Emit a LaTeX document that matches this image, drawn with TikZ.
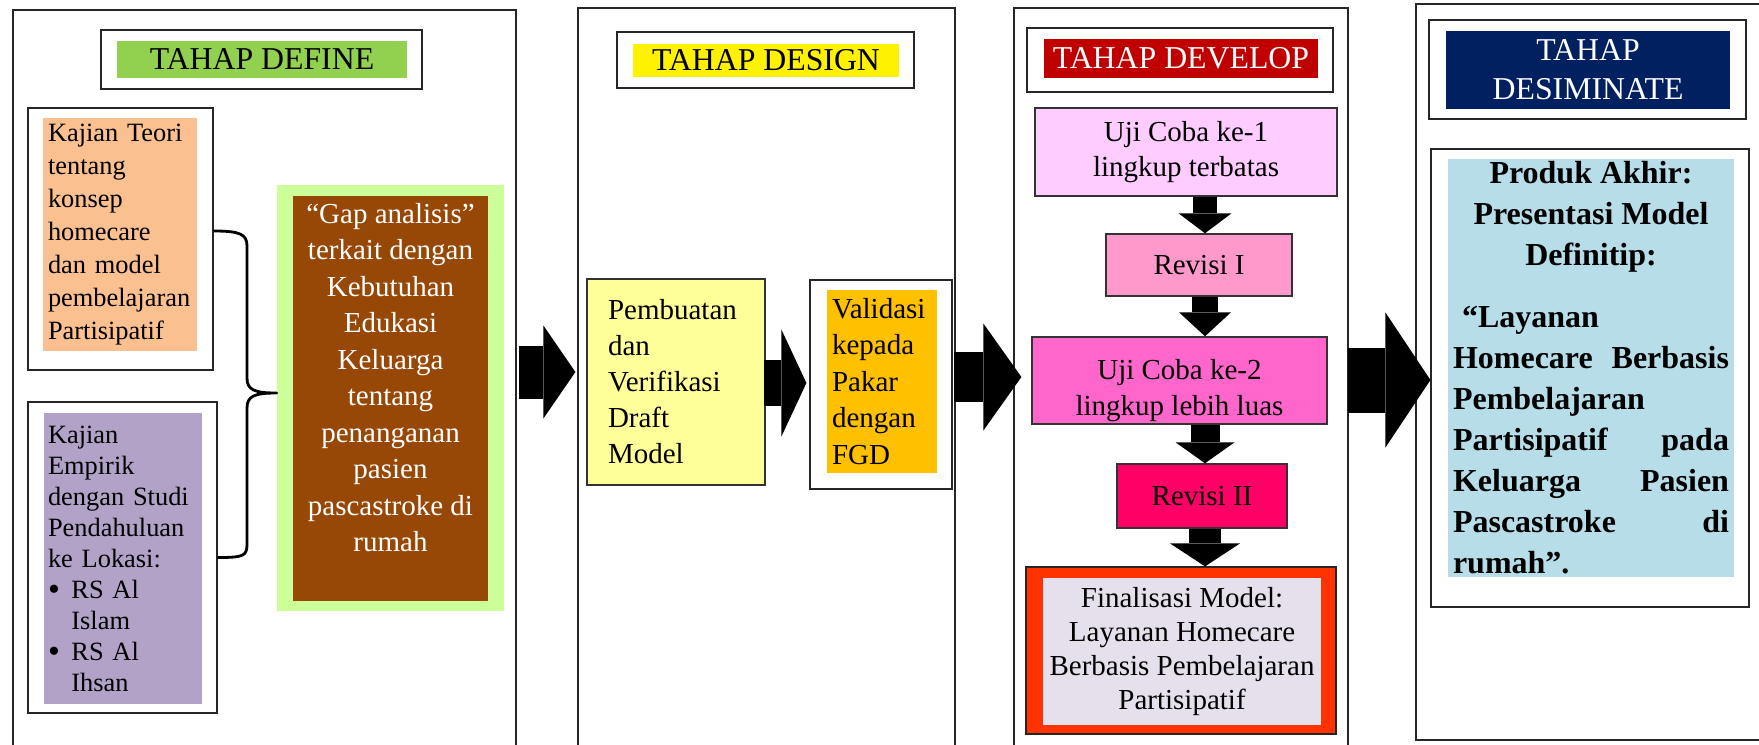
\documentclass[tikz,border=0pt]{standalone}
\usepackage{fontspec}
\setmainfont{Liberation Serif}
\usetikzlibrary{positioning,shapes,arrows.meta,calc,fit,shadows}
\definecolor{definegreen}{RGB}{146,208,80}
\definecolor{gapgreen}{RGB}{204,255,153}
\definecolor{gapbrown}{RGB}{152,72,6}
\definecolor{teoriorange}{RGB}{250,192,144}
\definecolor{empirikpurple}{RGB}{178,162,199}
\definecolor{draftyellow}{RGB}{255,255,153}
\definecolor{fgdorange}{RGB}{255,192,0}
\definecolor{developred}{RGB}{192,0,0}
\definecolor{ujipink}{RGB}{255,204,255}
\definecolor{revpink}{RGB}{255,153,204}
\definecolor{ujimagenta}{RGB}{255,102,204}
\definecolor{revred}{RGB}{255,0,102}
\definecolor{finalred}{RGB}{255,51,0}
\definecolor{finalgrey}{RGB}{230,224,236}
\definecolor{dissemnavy}{RGB}{0,32,96}
\definecolor{produkblue}{RGB}{183,222,232}
\newcommand{\jline}[2]{\makebox[138pt]{#1\hfill#2}}
\newcommand{\lline}[1]{\makebox[138pt][l]{#1}}
\newcommand{\bul}{\makebox[11.7pt][l]{\raisebox{-1pt}[0pt][0pt]{\fontsize{17}{15.5}\selectfont\textbullet}}}

\begin{document}
\begin{tikzpicture}[x=0.5pt,y=-0.5pt,
        panel/.style={draw=black!85, line width=0.6pt, fill=white, inner sep=0pt,
            drop shadow={shadow xshift=0.6pt, shadow yshift=-0.6pt, fill=black!55, opacity=1}},
        frame/.style={panel},
        plate/.style={inner sep=0pt},
        stepbox/.style={draw=black!80, line width=0.7pt, inner sep=0pt},
        titlefont/.style={font=\fontsize{15.9}{19.5}\selectfont, align=center},
        body/.style={font=\fontsize{14.5}{#1}\selectfont},
        brace/.style={draw, line width=1.4pt, line join=round},
        bigarrow/.style n args={3}{line width=#1, -{Triangle[width=#2, length=#3, line width=0pt]}}]
                    \useasboundingbox (0,0) rectangle (1759,744);

                    \node[panel, fit={(13,10) (516,800)}] (define) {};
                    \node[panel, fit={(578,8) (955,800)}] (design) {};
                    \node[panel, fit={(1014,8) (1348,800)}] (develop) {};
                    \node[panel, fit={(1416,4) (1800,740)}] (dissem) {};

                    \node[frame, fit={(101,30) (422,89)}] (defineT) {};
                    \node[plate, fill=definegreen, minimum width=145pt, minimum height=18.5pt, titlefont] (defineL) at (262,59.5) {TAHAP DEFINE};
                    \node[frame, fit={(617,32) (914,88)}] (designT) {};
                    \node[plate, fill=yellow, minimum width=133pt, minimum height=16.5pt, titlefont] (designL) at (766,60.5) {TAHAP DESIGN};
                    \node[frame, fit={(1027,28) (1333,92)}] (developT) {};
                    \node[plate, fill=developred, text=white, minimum width=137pt, minimum height=19.5pt, titlefont] (developL) at (1181,58.5) {TAHAP DEVELOP};
                    \node[frame, fit={(1429,20) (1746,119)}] (dissemT) {};
                    \node[plate, fill=dissemnavy, text=white, minimum width=142pt, minimum height=39pt, titlefont] (dissemL) at (1588,70) {TAHAP\\ DESIMINATE};

                    \node[frame, fit={(28,108) (213,370)}] (teoriBox) {};
                    \node[plate, fill=teoriorange, minimum width=77pt, minimum height=116.5pt, text width=72pt, align=left,
                        font=\fontsize{13.2}{16.5}\selectfont] (teori) at (120,234.5) {
                        Kajian Teori\\ tentang\\ konsep\\ homecare\\ dan model\\ pembelajaran\\ Partisipatif
                    };
                    \node[frame, fit={(28,402) (217,713)}] (empirikBox) {};
                    \node[plate, fill=empirikpurple, minimum width=79pt, minimum height=145.5pt, text width=75pt, align=left,
                        font=\fontsize{13.2}{15.5}\selectfont] (empirik) at (123,558.5) {
                        Kajian\\ Empirik\\ dengan Studi\\ Pendahuluan\\ ke Lokasi:\\
                        \bul RS Al\\ \hspace*{11.7pt}Islam\\ \bul RS Al\\ \hspace*{11.7pt}Ihsan
                    };

                    \node[plate, fill=gapgreen, fit={(277,185) (504,611)}] (gapBox) {};
                    \node[plate, fill=gapbrown, fit={(293,196) (488,601)}] (gap) {};
                    \node[plate, text=white, align=center, font=\fontsize{14.5}{18.25}\selectfont,
                        below=3.5pt of gap.north] (gapText) {
                        “Gap analisis”\\ terkait dengan\\ Kebutuhan\\ Edukasi\\ Keluarga\\ tentang\\
                        penanganan\\ pasien\\ pascastroke di\\ rumah
                    };

                    \draw[brace] ([yshift=4pt]teoriBox.east) .. controls +(26,0) and +(0,-12) .. (247,246)
                        -- (247,378) .. controls +(0,12) and +(-22,0) .. ([yshift=2.5pt]gapBox.west)
                        .. controls +(-22,0) and +(0,-12) .. (247,408)
                        -- (247,544) .. controls +(0,12) and +(26,0) .. (empirikBox.east);

                    \node[stepbox, fill=draftyellow, minimum width=89pt, minimum height=103pt, text width=68pt, align=left,
                        body=18pt] (draft) at (676,382) {Pembuatan\\ dan\\ Verifikasi\\ Draft\\ Model};
                    \node[frame, fit={(810,280) (952,489)}] (fgdBox) {};
                    \node[plate, fill=fgdorange, minimum width=55pt, minimum height=91.5pt, text width=50pt, align=left,
                        body=18.25pt] (fgd) at (882,381.5) {Validasi\\ kepada\\ Pakar\\ dengan\\ FGD};

                    \node[stepbox, fill=ujipink, minimum width=151pt, minimum height=44pt, align=center, body=17.8pt] (uji1) at (1186,152) {Uji Coba ke-1\\ lingkup terbatas};
                    \node[stepbox, fill=revpink, minimum width=93pt, minimum height=31pt, body=17.8pt] (rev1) at (1199,265) {Revisi I};
                    \node[stepbox, fill=ujimagenta, fit={(1032,337) (1327,424)}] (uji2) {};
                    \begin{scope}
                        \clip (uji2.north west) rectangle (uji2.south east);
                        \node[plate, align=center, body=17.8pt, below=11.5pt of uji2.north] (uji2Text) {Uji Coba ke-2\\ lingkup lebih luas};
                    \end{scope}
                    \node[stepbox, fill=revred, minimum width=85pt, minimum height=32pt, body=17.8pt] (rev2) at (1202,496) {Revisi II};
                    \node[frame, fill=finalred, fit={(1026,567) (1336,734)}] (finalBox) {};
                    \node[plate, fill=finalgrey, minimum width=139pt, minimum height=73.5pt, align=center, body=16.85pt] (final) at (1182,651.5) {
                        Finalisasi Model:\\ Layanan Homecare\\ Berbasis Pembelajaran\\ Partisipatif
                    };

                    \node[frame, fit={(1431,149) (1749,607)}] (produkBox) {};
                    \node[plate, fill=produkblue, minimum width=143pt, minimum height=209pt, align=center,
                        font=\bfseries\fontsize{16}{20.5}\selectfont] (produk) at (1591,368) {
                        Produk Akhir:\\ Presentasi Model\\ Definitip:\\[10.5pt]
                        \lline{\hspace*{4.5pt}“Layanan}\\ \jline{Homecare}{Berbasis}\\ \lline{Pembelajaran}\\
                        \jline{Partisipatif}{pada}\\ \jline{Keluarga}{Pasien}\\ \jline{Pascastroke}{di}\\ \lline{rumah”.}
                    };

                    \coordinate (lv1) at (0,372);
                    \coordinate (lv2) at (0,383);
                    \coordinate (lv3) at (0,377);
                    \coordinate (lv4) at (0,380);
                    \coordinate (col) at (1205,0);
                    \draw[bigarrow={26.5pt}{46.5pt}{16pt}] ($(define.east |- lv1)+(2,0)$) -- ($(design.west |- lv1)+(-2,0)$);
                    \draw[bigarrow={23pt}{53.5pt}{12.5pt}] ($(draft.east |- lv2)+(-2,0)$) -- ($(fgdBox.west |- lv2)+(-3,0)$);
                    \draw[bigarrow={25pt}{53.5pt}{19pt}] ($(design.east |- lv3)+(-2,0)$) -- ($(develop.west |- lv3)+(8,0)$);
                    \draw[bigarrow={32.5pt}{67.5pt}{22.5pt}] ($(develop.east |- lv4)+(-1,0)$) -- (produkBox.west |- lv4);

                    \draw[bigarrow={12pt}{26.5pt}{10pt}] (uji1.south -| col) -- (rev1.north -| col);
                    \draw[bigarrow={13pt}{26pt}{12pt}] (rev1.south -| col) -- (uji2.north -| col);
                    \draw[bigarrow={14.5pt}{29.5pt}{10.5pt}] (uji2.south -| col) -- (rev2.north -| col);
                    \draw[bigarrow={16pt}{35pt}{11.5pt}] (rev2.south -| col) -- (finalBox.north -| col);
                \end{tikzpicture}
\end{document}
